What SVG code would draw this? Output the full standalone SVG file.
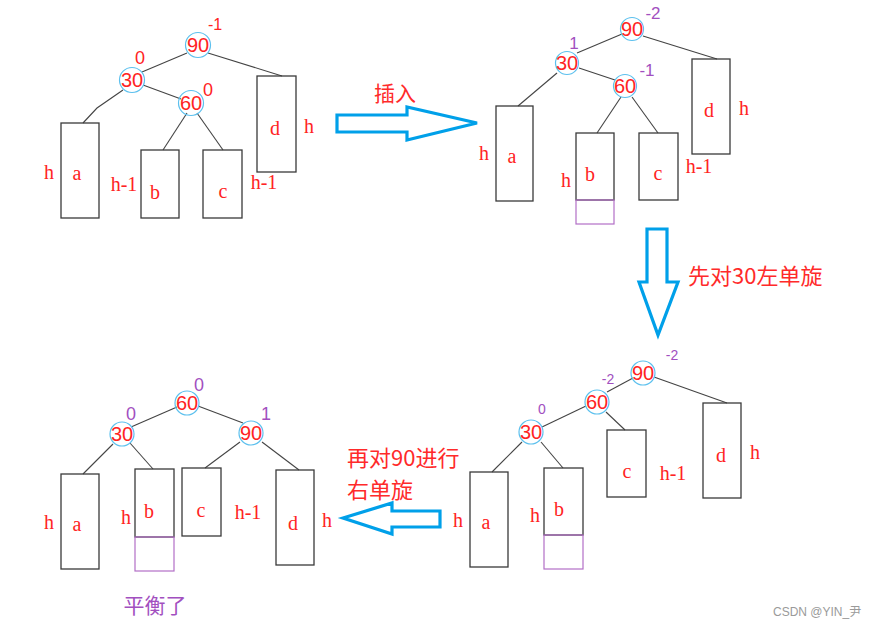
<svg xmlns="http://www.w3.org/2000/svg" width="875" height="629" viewBox="0 0 875 629">
<style>
.bg{fill:#ffffff}
.nc{fill:none;stroke:#5cc0ee;stroke-width:1.2}
.nt{font-family:"Liberation Sans","Noto Sans",sans-serif;font-size:20px;fill:#ff2323;text-anchor:middle}
.bx{fill:none;stroke:#3a3a3a;stroke-width:1.3}
.ex{fill:none;stroke:#b26fc6;stroke-width:1.2}
.lt{font-family:"Liberation Serif","Noto Sans CJK SC",serif;font-size:20px;fill:#ff2323;text-anchor:middle}
.bf{font-family:"Liberation Sans","Noto Sans",sans-serif;font-size:17px;text-anchor:middle}
.red{fill:#ff2323}
.pur{fill:#a24fbf}
.sm{font-size:14px}
.ed{fill:none;stroke:#444;stroke-width:1.1}
.ar{fill:none;stroke:#00a0e9;stroke-width:3.2;stroke-linejoin:miter}
.cn{font-family:"Noto Sans CJK SC","Noto Sans CJK JP",sans-serif;font-size:21px;fill:#ff2a2a}
.wm{font-family:"Liberation Sans","Noto Sans CJK SC",sans-serif;font-size:12px;fill:#9a9a9a}
</style>
<rect class="bg" x="0" y="0" width="875" height="629"/>

<g id="connectors">
  <!-- top-left -->
  <path class="ed" d="M187,53 L142,72"/>
  <path class="ed" d="M208,53 L282,76"/>
  <path class="ed" d="M123,90 L97,108 L83,123"/>
  <path class="ed" d="M143,85 L181,99"/>
  <path class="ed" d="M187,113 L163,150"/>
  <path class="ed" d="M197,113 L223,150"/>
  <!-- top-right -->
  <path class="ed" d="M622,34 L577,53"/>
  <path class="ed" d="M643,36 L717,59"/>
  <path class="ed" d="M557,73 L518,106"/>
  <path class="ed" d="M579,68 L615,80"/>
  <path class="ed" d="M621,97 L597,133"/>
  <path class="ed" d="M632,97 L658,133"/>
  <!-- bottom-left -->
  <path class="ed" d="M177,407 L131,427"/>
  <path class="ed" d="M198,406 L243,423"/>
  <path class="ed" d="M113,444 L83,474"/>
  <path class="ed" d="M130,443 L153,469"/>
  <path class="ed" d="M240,442 L205,468"/>
  <path class="ed" d="M262,442 L299,470"/>
  <!-- bottom-right -->
  <path class="ed" d="M633,378 L607,392"/>
  <path class="ed" d="M654,377 L727,403"/>
  <path class="ed" d="M586,406 L542,427"/>
  <path class="ed" d="M606,412 L625,430"/>
  <path class="ed" d="M522,442 L492,472"/>
  <path class="ed" d="M541,442 L563,468"/>
</g>

<!-- ===== Top-left tree ===== -->
<g id="tl-90"><circle class="nc" cx="198" cy="45" r="12.5"/><text class="nt" x="198" y="52">90</text><text class="bf red" x="215" y="30" style="font-size:16px">-1</text></g>
<g id="tl-30"><circle class="nc" cx="132" cy="80" r="12.5"/><text class="nt" x="132" y="87">30</text><text class="bf red" x="140" y="64" style="font-size:18px">0</text></g>
<g id="tl-60"><circle class="nc" cx="191" cy="103" r="12.5"/><text class="nt" x="191" y="110">60</text><text class="bf red" x="208" y="96" style="font-size:18px">0</text></g>
<g id="tl-a"><rect class="bx" x="61" y="123" width="38" height="95"/><text class="lt" x="77" y="180">a</text><text class="lt" x="49" y="179">h</text></g>
<g id="tl-b"><rect class="bx" x="141" y="150" width="38" height="68"/><text class="lt" x="155" y="199">b</text><text class="lt" x="124" y="191">h-1</text></g>
<g id="tl-c"><rect class="bx" x="203" y="150" width="39" height="68"/><text class="lt" x="223" y="198">c</text><text class="lt" x="264" y="189">h-1</text></g>
<g id="tl-d"><rect class="bx" x="257" y="76" width="39" height="96"/><text class="lt" x="275" y="135">d</text><text class="lt" x="309" y="133">h</text></g>

<!-- insert arrow -->
<g id="arrow-insert">
  <polygon class="ar" points="337,115 407,115 407,107 477,123 407,140 407,132 337,132"/>
  <text class="cn" x="395" y="101" text-anchor="middle">插入</text>
</g>

<!-- ===== Top-right tree ===== -->
<g id="tr-90"><circle class="nc" cx="632" cy="29" r="11.5"/><text class="nt" x="632" y="36">90</text><text class="bf pur" x="653" y="19">-2</text></g>
<g id="tr-30"><circle class="nc" cx="567" cy="63" r="11.5"/><text class="nt" x="567" y="70">30</text><text class="bf pur" x="574" y="49">1</text></g>
<g id="tr-60"><circle class="nc" cx="625" cy="86" r="11.5"/><text class="nt" x="625" y="93">60</text><text class="bf pur" x="647" y="76">-1</text></g>
<g id="tr-a"><rect class="bx" x="496" y="106" width="37" height="95"/><text class="lt" x="512" y="163">a</text><text class="lt" x="484" y="160">h</text></g>
<g id="tr-b"><rect class="bx" x="576" y="133" width="38" height="67"/><rect class="ex" x="576" y="200" width="38" height="24"/><text class="lt" x="590" y="181">b</text><text class="lt" x="566" y="187">h</text></g>
<g id="tr-c"><rect class="bx" x="639" y="133" width="39" height="67"/><text class="lt" x="658" y="180">c</text><text class="lt" x="699" y="173">h-1</text></g>
<g id="tr-d"><rect class="bx" x="692" y="59" width="38" height="95"/><text class="lt" x="709" y="117">d</text><text class="lt" x="744" y="115">h</text></g>

<!-- down arrow -->
<g id="arrow-left-rotate">
  <polygon class="ar" points="647,229 667,229 667,282 678,282 658,335 639,282 647,282"/>
  <text class="cn" x="688" y="284" style="font-size:22px">先对30左单旋</text>
</g>

<!-- ===== Bottom-right tree ===== -->
<g id="br-90"><circle class="nc" cx="643" cy="373" r="12"/><text class="nt" x="643" y="380">90</text><text class="bf pur sm" x="672" y="360">-2</text></g>
<g id="br-60"><circle class="nc" cx="597" cy="402" r="12"/><text class="nt" x="597" y="409">60</text><text class="bf pur sm" x="608" y="384">-2</text></g>
<g id="br-30"><circle class="nc" cx="531" cy="432" r="12"/><text class="nt" x="531" y="439">30</text><text class="bf pur sm" x="542" y="414">0</text></g>
<g id="br-a"><rect class="bx" x="470" y="472" width="38" height="95"/><text class="lt" x="486" y="529">a</text><text class="lt" x="458" y="527">h</text></g>
<g id="br-b"><rect class="bx" x="544" y="468" width="39" height="67"/><rect class="ex" x="544" y="535" width="39" height="34"/><text class="lt" x="559" y="516">b</text><text class="lt" x="535" y="522">h</text></g>
<g id="br-c"><rect class="bx" x="607" y="430" width="39" height="67"/><text class="lt" x="627" y="478">c</text><text class="lt" x="673" y="480">h-1</text></g>
<g id="br-d"><rect class="bx" x="703" y="403" width="38" height="95"/><text class="lt" x="721" y="462">d</text><text class="lt" x="755" y="459">h</text></g>

<!-- left arrow -->
<g id="arrow-right-rotate">
  <polygon class="ar" points="440,511 392,511 392,503 343,518 392,534 392,527 440,527"/>
  <text class="cn" x="347" y="466" style="font-size:22px">再对90进行</text>
  <text class="cn" x="347" y="498" style="font-size:22px">右单旋</text>
</g>

<!-- ===== Bottom-left tree ===== -->
<g id="bl-60"><circle class="nc" cx="187" cy="403" r="12"/><text class="nt" x="187" y="410">60</text><text class="bf pur" x="199" y="391" style="font-size:18px">0</text></g>
<g id="bl-30"><circle class="nc" cx="122" cy="434" r="12"/><text class="nt" x="122" y="441">30</text><text class="bf pur" x="131" y="420" style="font-size:18px">0</text></g>
<g id="bl-90"><circle class="nc" cx="251" cy="433" r="12"/><text class="nt" x="251" y="440">90</text><text class="bf pur" x="266" y="420" style="font-size:18px">1</text></g>
<g id="bl-a"><rect class="bx" x="61" y="474" width="38" height="95"/><text class="lt" x="77" y="531">a</text><text class="lt" x="49" y="529">h</text></g>
<g id="bl-b"><rect class="bx" x="135" y="469" width="39" height="68"/><rect class="ex" x="135" y="537" width="39" height="34"/><text class="lt" x="149" y="518">b</text><text class="lt" x="126" y="524">h</text></g>
<g id="bl-c"><rect class="bx" x="182" y="468" width="39" height="68"/><text class="lt" x="201" y="517">c</text><text class="lt" x="248" y="519">h-1</text></g>
<g id="bl-d"><rect class="bx" x="276" y="470" width="38" height="95"/><text class="lt" x="293" y="530">d</text><text class="lt" x="327" y="527">h</text></g>

<text id="balanced" class="cn" x="155" y="613" text-anchor="middle" style="fill:#a24fbf;font-size:21px">平衡了</text>

<text id="watermark" class="wm" x="773" y="616">CSDN @YIN_尹</text>
</svg>
